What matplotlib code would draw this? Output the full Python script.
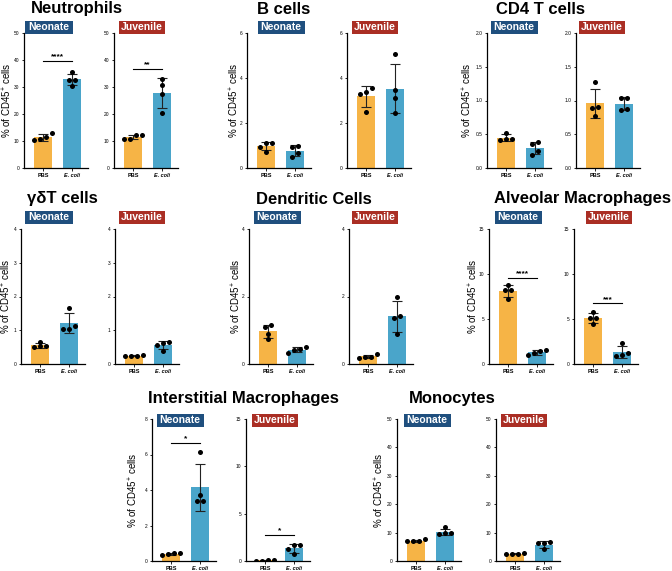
import numpy as np
import matplotlib
matplotlib.use('Agg')
import matplotlib.pyplot as plt
from matplotlib.patches import Rectangle

plt.rcParams['font.family'] = ['Liberation Sans', 'DejaVu Sans']
plt.rcParams['mathtext.default'] = 'regular'

# ---------------------------------------------------------------- data
groups = ['PBS', 'E. coli']

neut_neo_pbs = [10.2, 13.1, 11.5, 10.7]
neut_neo_eco = [35.5, 32.7, 32.5, 30.5]
neut_juv_pbs = [12.2, 12.2, 10.8, 10.8]
neut_juv_eco = [33.1, 30.9, 27.4, 20.4]

b_neo_pbs = [1.10, 0.95, 0.72, 1.10]
b_neo_eco = [1.00, 0.94, 0.67, 0.48]
b_juv_pbs = [3.55, 3.40, 3.30, 2.50]
b_juv_eco = [5.07, 3.48, 3.12, 2.46]

cd4_neo_pbs = [0.52, 0.43, 0.43, 0.42]
cd4_neo_eco = [0.38, 0.35, 0.25, 0.19]
cd4_juv_pbs = [1.27, 0.91, 0.89, 0.77]
cd4_juv_eco = [1.04, 1.04, 0.86, 0.88]

gd_neo_pbs = [0.66, 0.52, 0.50, 0.52]
gd_neo_eco = [1.65, 1.12, 1.05, 1.05]
gd_juv_pbs = [0.25, 0.27, 0.24, 0.24]
gd_juv_eco = [0.66, 0.63, 0.56, 0.38]

dc_neo_pbs = [1.16, 1.09, 0.89, 0.74]
dc_neo_eco = [0.50, 0.42, 0.44, 0.32]
dc_juv_pbs = [0.29, 0.22, 0.22, 0.17]
dc_juv_eco = [1.98, 1.43, 1.36, 0.88]

am_neo_pbs = [8.77, 8.20, 8.20, 7.25]
am_neo_eco = [1.52, 1.45, 1.23, 0.97]
am_juv_pbs = [5.80, 5.15, 5.10, 4.40]
am_juv_eco = [2.35, 1.20, 0.95, 0.85]

im_neo_pbs = [0.35, 0.45, 0.40, 0.45]
im_neo_eco = [6.12, 3.70, 3.39, 3.39]
im_juv_pbs = [0.05, 0.06, 0.05, 0.06]
im_juv_eco = [1.67, 1.67, 1.31, 0.71]

mono_neo_pbs = [7.6, 6.9, 6.9, 6.9]
mono_neo_eco = [11.8, 9.8, 9.6, 9.9]
mono_juv_pbs = [2.5, 2.6, 2.6, 2.7]
mono_juv_eco = [6.6, 6.2, 6.2, 4.1]

# significance: (height, stars)
sig_neut = [(39.5, '****'), (36.7, '**')]
sig_am = [(9.6, '****'), (6.73, '***')]
sig_im = [(6.63, '*'), (2.73, '*')]

# ---------------------------------------------------------------- style
ORANGE = '#F6B446'
BLUE = '#4AA5CA'
NEO_C = '#1F4F7E'
JUV_C = '#AA2E24'

W, H = 672, 571
fig = plt.figure(figsize=(W / 100, H / 100), dpi=100)


def fx(x):
    return x / W


def fy(y):
    return 1 - y / H


def jitter(vals, ymax):
    # spread points with similar values side by side
    vals = np.asarray(vals, float)
    order = np.argsort(vals)
    offs = np.zeros(len(vals))
    tol = 0.035 * ymax
    clusters = [[order[0]]]
    for i in order[1:]:
        if vals[i] - vals[clusters[-1][-1]] < tol:
            clusters[-1].append(i)
        else:
            clusters.append([i])
    for c in clusters:
        n = len(c)
        for k, i in enumerate(c):
            offs[i] = (k - (n - 1) / 2) * 0.2
    return offs


def badge(xc, yc, text, color, w):
    fig.patches.append(Rectangle((fx(xc - w / 2), fy(yc + 6.5)), w / W, 13 / H,
                                 transform=fig.transFigure, fc=color, ec='none'))
    fig.text(fx(xc), fy(yc), text, color='white', fontsize=7.5, fontweight='bold',
             ha='center', va='center')


def panel(left, top, bottom, pbs, eco, ymax, ystep, fmt, sig, lab_off):
    ax = fig.add_axes([fx(left), fy(bottom), 64 / W, (bottom - top) / H])
    for i, (vals, col) in enumerate([(pbs, ORANGE), (eco, BLUE)]):
        vals = np.asarray(vals)
        m, sd = vals.mean(), vals.std(ddof=1)
        ax.bar(i, m, width=0.62, color=col, zorder=1)
        ax.errorbar(i, m, yerr=sd, color='#222222', capsize=3.5, elinewidth=0.8,
                    capthick=0.8, zorder=2)
        ax.scatter(i + jitter(vals, ymax), vals, s=13, color='black', zorder=3,
                   linewidths=0)
    if sig is not None:
        h, stars = sig
        ax.plot([0, 1], [h, h], color='black', lw=0.8)
        ax.text(0.5, h + ymax * 0.005, stars, ha='center', va='bottom',
                fontsize=6, fontweight='bold')
    ax.set_xlim(-0.65, 1.55)
    ax.set_ylim(0, ymax)
    ax.set_yticks(np.arange(0, ymax + ystep / 2, ystep))
    ax.set_yticklabels([fmt.format(t) for t in ax.get_yticks()], fontsize=3.5)
    ax.set_xticks([0, 1])
    ax.set_xticklabels(groups, fontsize=4, fontweight='bold')
    ax.get_xticklabels()[1].set_style('italic')
    ax.tick_params(axis='both', length=1.8, width=0.6, pad=1.5)
    for s in ['top', 'right']:
        ax.spines[s].set_visible(False)
    for s in ['left', 'bottom']:
        ax.spines[s].set_linewidth(0.9)
    ax.patch.set_alpha(0)
    if lab_off is not None:
        ax.set_ylabel('% of CD45$^{+}$ cells', fontsize=7)
        ax.yaxis.set_label_coords(-lab_off / 64, 0.5)
    return ax


# ---------------------------------------------------------------- layout
# title, title x, title y, neonate left, juvenile left, top, bottom,
# badge y, neonate badge x, juvenile badge x, ylabel offset,
# neonate data, juvenile data, ylims/ticks, significance
rows = [
    ('Neutrophils', 77, 9, 24, 114, 33, 168, 27, 49, 142, 10,
     (neut_neo_pbs, neut_neo_eco), (neut_juv_pbs, neut_juv_eco),
     (50, 10, '{:.0f}'), (50, 10, '{:.0f}'), sig_neut),
    ('B cells', 284, 9, 247, 347, 33, 168, 27, 281, 375, 6,
     (b_neo_pbs, b_neo_eco), (b_juv_pbs, b_juv_eco),
     (6, 2, '{:.0f}'), (6, 2, '{:.0f}'), None),
    ('CD4 T cells', 541, 9, 487, 576, 33, 168, 27, 514, 602, 13,
     (cd4_neo_pbs, cd4_neo_eco), (cd4_juv_pbs, cd4_juv_eco),
     (2, 0.5, '{:.1f}'), (2, 0.5, '{:.1f}'), None),
    ('γδT cells', 62, 199, 21, 115, 229, 364, 217, 49, 142, 8,
     (gd_neo_pbs, gd_neo_eco), (gd_juv_pbs, gd_juv_eco),
     (4, 1, '{:.0f}'), (4, 1, '{:.0f}'), None),
    ('Dendritic Cells', 314, 199, 249, 349, 229, 364, 217, 277, 375, 6,
     (dc_neo_pbs, dc_neo_eco), (dc_juv_pbs, dc_juv_eco),
     (4, 2, '{:.0f}'), (4, 2, '{:.0f}'), None),
    ('Alveolar Macrophages', 582, 199, 489, 574, 229, 364, 217, 518, 609, 9,
     (am_neo_pbs, am_neo_eco), (am_juv_pbs, am_juv_eco),
     (15, 5, '{:.0f}'), (15, 5, '{:.0f}'), sig_am),
    ('Interstitial Macrophages', 243, 399, 152, 246, 419, 561, 420, 180, 275, 12,
     (im_neo_pbs, im_neo_eco), (im_juv_pbs, im_juv_eco),
     (8, 2, '{:.0f}'), (15, 5, '{:.0f}'), sig_im),
    ('Monocytes', 452, 399, 397, 496, 419, 561, 420, 427, 524, 10.5,
     (mono_neo_pbs, mono_neo_eco), (mono_juv_pbs, mono_juv_eco),
     (50, 10, '{:.0f}'), (50, 10, '{:.0f}'), None),
]

for (title, tx, ty, nl, jl, top, bot, by, nbx, jbx, loff,
     neo, juv, ny, jy, sig) in rows:
    s_neo = sig[0] if sig else None
    s_juv = sig[1] if sig else None
    panel(nl, top, bot, neo[0], neo[1], ny[0], ny[1], ny[2], s_neo, loff)
    panel(jl, top, bot, juv[0], juv[1], jy[0], jy[1], jy[2], s_juv, None)
    fig.text(fx(tx), fy(ty), title, fontsize=12, fontweight='bold',
             ha='center', va='center')
    badge(nbx, by, 'Neonate', NEO_C, 47)
    badge(jbx, by, 'Juvenile', JUV_C, 46)

fig.savefig('out.png', dpi=100)
